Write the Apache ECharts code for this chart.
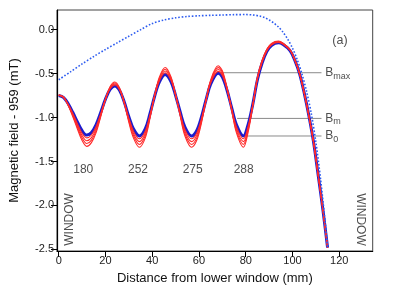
<!DOCTYPE html>
<html><head><meta charset="utf-8">
<script src="https://cdn.jsdelivr.net/npm/echarts@6/dist/echarts.min.js"></script>
<style>html,body{margin:0;padding:0;background:#fff}#c{width:399px;height:288px}</style>
</head><body><div id="c"></div>
<script>
// distance from lower window (mm)
const xPos = [0,2,4,6,8,10,12,14,16,18,20,22,24,26,28,30,32,34.5,37,39,41,43,45.5,48,50,52,54,56.8,59,61,63,65,68.2,70,72,74,76,79,81,83,85,87,89,91,94,96,99,101,103,105,107,109,111,113,115];
// measured field (blue, thick)
const bBlue = [-0.75,-0.77,-0.84,-0.94,-1.05,-1.15,-1.20,-1.17,-1.08,-0.94,-0.79,-0.68,-0.64,-0.69,-0.82,-0.99,-1.13,-1.21,-1.13,-0.96,-0.76,-0.60,-0.51,-0.59,-0.75,-0.94,-1.11,-1.21,-1.15,-1.00,-0.80,-0.62,-0.495,-0.54,-0.69,-0.89,-1.08,-1.21,-1.08,-0.85,-0.57,-0.38,-0.25,-0.18,-0.15,-0.17,-0.24,-0.35,-0.50,-0.72,-0.98,-1.28,-1.66,-2.05,-2.48];
// red curves
const bRed1 = [-0.748,-0.769,-0.845,-0.952,-1.07,-1.178,-1.232,-1.199,-1.103,-0.952,-0.791,-0.672,-0.629,-0.683,-0.823,-1.006,-1.156,-1.242,-1.156,-0.974,-0.758,-0.586,-0.49,-0.576,-0.748,-0.952,-1.135,-1.242,-1.178,-1.017,-0.802,-0.608,-0.474,-0.522,-0.683,-0.898,-1.103,-1.242,-1.102,-0.855,-0.562,-0.372,-0.243,-0.174,-0.145,-0.166,-0.237,-0.348,-0.499,-0.72,-0.98,-1.28,-1.66,-2.05,-2.48];
const bRed2 = [-0.746,-0.768,-0.85,-0.964,-1.09,-1.206,-1.264,-1.228,-1.126,-0.964,-0.792,-0.664,-0.618,-0.676,-0.826,-1.022,-1.182,-1.274,-1.182,-0.988,-0.756,-0.572,-0.47,-0.562,-0.746,-0.964,-1.16,-1.274,-1.206,-1.034,-0.804,-0.596,-0.453,-0.504,-0.676,-0.906,-1.126,-1.274,-1.124,-0.86,-0.554,-0.364,-0.236,-0.168,-0.14,-0.162,-0.234,-0.346,-0.498,-0.72,-0.98,-1.28,-1.66,-2.05,-2.48];
const bRed3 = [-0.744,-0.767,-0.855,-0.976,-1.11,-1.234,-1.296,-1.257,-1.149,-0.976,-0.793,-0.656,-0.607,-0.669,-0.829,-1.038,-1.208,-1.306,-1.208,-1.002,-0.754,-0.558,-0.45,-0.548,-0.744,-0.976,-1.185,-1.306,-1.234,-1.051,-0.806,-0.584,-0.432,-0.486,-0.669,-0.914,-1.149,-1.306,-1.146,-0.865,-0.546,-0.356,-0.229,-0.162,-0.135,-0.158,-0.231,-0.344,-0.497,-0.72,-0.98,-1.28,-1.66,-2.05,-2.48];
const bRed4 = [-0.742,-0.766,-0.86,-0.988,-1.13,-1.262,-1.328,-1.286,-1.172,-0.988,-0.794,-0.648,-0.596,-0.662,-0.832,-1.054,-1.234,-1.338,-1.234,-1.016,-0.752,-0.544,-0.43,-0.534,-0.742,-0.988,-1.21,-1.338,-1.262,-1.068,-0.808,-0.572,-0.411,-0.468,-0.662,-0.922,-1.172,-1.338,-1.168,-0.87,-0.538,-0.348,-0.222,-0.156,-0.13,-0.154,-0.228,-0.342,-0.496,-0.72,-0.98,-1.28,-1.66,-2.05,-2.48];
// dotted blue curve
const dotX = [0,5,10,15,20,25,30,35,40,45,50,55,60,65,70,75,80,83,86,88,90,92,94,96,98,100,102,104,106,108,110,112,114,115];
const dotY = [-0.57,-0.48,-0.39,-0.305,-0.225,-0.15,-0.075,0.0,0.07,0.11,0.135,0.15,0.158,0.163,0.167,0.171,0.172,0.168,0.155,0.138,0.11,0.075,0.03,-0.03,-0.11,-0.21,-0.34,-0.5,-0.7,-0.95,-1.28,-1.7,-2.2,-2.48];
// tick labels
const xTicks = [0,20,40,60,80,100,120];
const yTicks = [0.0,-0.5,-1.0,-1.5,-2.0,-2.5];
// annotations
const minLabels = ['180','252','275','288'];
const minLabelX = [10.5,33.9,57.3,79.1];
const minLabelY = -1.59;
const refNames = ['max','m','0'];
const refY = [-0.49,-1.01,-1.21];
const refStart = [68.9,76.3,78.5];
const refEnd = 112.4;
const refLabelX = 114.0;

const FONT = 'Liberation Sans, Arial, Helvetica, sans-serif';
const pairs = (xs, ys) => xs.map((x, i) => [x, ys[i]]);
const chart = echarts.init(document.getElementById('c'), null, {renderer: 'canvas'});

const series = [];
series.push({type:'line', data: pairs(xPos, bBlue), showSymbol:false, smooth:0.35, lineStyle:{color:'#1c1ccc', width:3}, z:2});
[bRed1,bRed2,bRed3,bRed4].forEach(r => series.push({type:'line', data: pairs(xPos, r), showSymbol:false, smooth:0.35, lineStyle:{color:'#ff2a2a', width:1.1}, z:3}));
series.push({type:'line', data: pairs(dotX, dotY), showSymbol:false, smooth:0.3, lineStyle:{color:'#2d5cf0', width:1.6, type:[1.6,1.8]}, z:4});
refNames.forEach((n, i) => {
  series.push({type:'line', data:[[refStart[i], refY[i]],[refEnd, refY[i]]], showSymbol:false, lineStyle:{color:'#8a8a8a', width:1}, z:1});
});
series.push({type:'scatter', symbolSize:0, z:5,
  data: refNames.map((n, i) => ({value:[refLabelX, refY[i]], name:n})),
  label:{show:true, position:[0,0], align:'left', verticalAlign:'middle',
    formatter: p => '{b|B}{s|' + p.name + '}',
    rich:{b:{fontSize:12, fontFamily:FONT, color:'#222'}, s:{fontSize:9, fontFamily:FONT, color:'#222', padding:[7,0,0,0]}}}
});
series.push({type:'scatter', symbolSize:0, z:5,
  data: minLabels.map((t, i) => ({value:[minLabelX[i], minLabelY], name:t})),
  label:{show:true, position:'inside', formatter: p => p.name, fontSize:12, fontFamily:FONT, color:'#222'}
});
series.push({type:'scatter', symbolSize:0, z:5, data:[{value:[4.8,-2.16], name:'WINDOW'}],
  label:{show:true, position:'inside', rotate:90, formatter: p => p.name, fontSize:12, fontFamily:FONT, color:'#222'}});
series.push({type:'scatter', symbolSize:0, z:5, data:[{value:[128.8,-2.16], name:'WINDOW'}],
  label:{show:true, position:'inside', rotate:-90, formatter: p => p.name, fontSize:12, fontFamily:FONT, color:'#222'}});
series.push({type:'scatter', symbolSize:0, z:5, data:[{value:[120.3,-0.125], name:'(a)'}],
  label:{show:true, position:'inside', formatter: p => p.name, fontSize:12.5, fontFamily:FONT, color:'#222'}});

chart.setOption({
  animation:false,
  backgroundColor:'#fff',
  grid:{left:57, top:10, right:26.3, bottom:37, show:true, borderColor:'#444', borderWidth:1, containLabel:false, outerBoundsMode:'none'},
  xAxis:{type:'value', min:-0.73, max:134.3,
    name:'Distance from lower window (mm)', nameLocation:'middle', nameGap:21,
    nameTextStyle:{fontSize:13, fontFamily:FONT, color:'#111'},
    axisLine:{show:true, onZero:false, lineStyle:{color:'#000', width:1.2}},
    axisTick:{show:true, length:6, inside:false, customValues:xTicks, lineStyle:{color:'#000'}},
    axisLabel:{customValues:xTicks, fontSize:11, fontFamily:FONT, color:'#222', margin:4},
    splitLine:{show:false}},
  yAxis:{type:'value', min:-2.519, max:0.224,
    name:'Magnetic field - 959 (mT)', nameLocation:'middle', nameGap:36,
    nameTextStyle:{fontSize:13, fontFamily:FONT, color:'#111'},
    axisLine:{show:true, onZero:false, lineStyle:{color:'#000', width:1.2}},
    axisTick:{show:true, length:6, inside:false, customValues:yTicks, lineStyle:{color:'#000'}},
    axisLabel:{customValues:yTicks, formatter: v => Number(v).toFixed(1), fontSize:11, fontFamily:FONT, color:'#222', margin:3},
    splitLine:{show:false}},
  series: series
});
</script></body></html>
